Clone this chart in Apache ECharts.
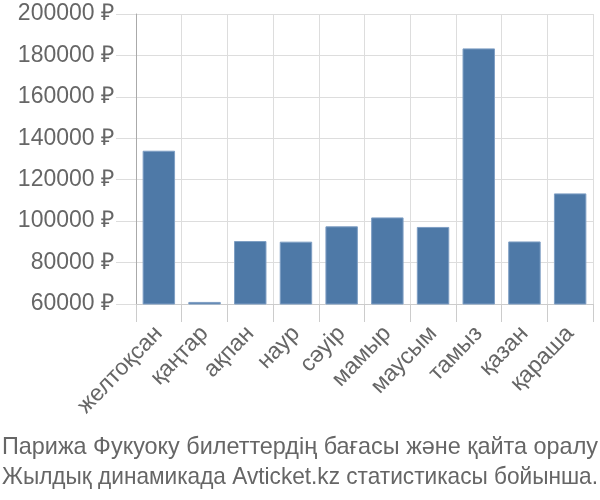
<!DOCTYPE html>
<html><head><meta charset="utf-8">
<script src="https://cdn.jsdelivr.net/npm/echarts@6/dist/echarts.min.js"></script>
<style>html,body{margin:0;padding:0;background:#fff}#c{width:600px;height:500px}</style>
</head><body><div id="c"></div>
<script>
const categories = ['желтоқсан','қаңтар','ақпан','наур','сәуір','мамыр','маусым','тамыз','қазан','қараша'];
const prices = [134000, 61000, 90400, 90100, 97500, 101800, 97200, 183400, 90200, 113400];
const yMin = 60000, yMax = 200000, yStep = 20000;
const titleLines = ['Парижа Фукуоку билеттердің бағасы және қайта оралу', 'Жылдық динамикада Avticket.kz статистикасы бойынша.'];

const font = '"Liberation Sans", Arial, sans-serif';
const titleSize = 24;
const fitWidth = 596;
const ctx = document.createElement('canvas').getContext('2d');
ctx.font = titleSize + 'px ' + font;
const titleGraphics = titleLines.map((t, i) => {
  const w = ctx.measureText(t).width;
  const s = Math.min(1, fitWidth / w);
  return {type:'text', x:300, y:447 + i*30, scaleX:s, silent:true,
    style:{text:t, fontFamily:font, fontSize:titleSize, fill:'#666', align:'center', verticalAlign:'middle'}};
});

const chart = echarts.init(document.getElementById('c'), null, {renderer:'canvas'});
chart.setOption({
  animation:false,
  grid:{left:136, right:7, top:14, bottom:196, containLabel:false},
  graphic:titleGraphics,
  xAxis:{type:'category', data:categories, boundaryGap:true,
    axisLine:{show:true, lineStyle:{color:'#ccc'}},
    axisTick:{show:true, inside:false, length:18, lineStyle:{color:'#ccc', width:1}},
    splitLine:{show:true, lineStyle:{color:'#ddd'}},
    axisLabel:{rotate:46, fontFamily:font, fontSize:23, color:'#666', margin:26, interval:0}},
  yAxis:{type:'value', min:yMin, max:yMax, interval:yStep, position:'left',
    axisLine:{show:true, lineStyle:{color:'#aaa'}},
    axisTick:{show:true, inside:false, length:20, lineStyle:{color:'#ddd', width:1}},
    splitLine:{show:true, lineStyle:{color:'#ddd'}},
    axisLabel:{fontFamily:font, fontSize:23, color:'#666', margin:22, formatter:v=>v+' ₽'}},
  series:[{type:'bar', data:prices, barCategoryGap:'29%',
    itemStyle:{color:'#4e79a7', borderColor:'#7f9fc4', borderWidth:1}}]
});
</script></body></html>
